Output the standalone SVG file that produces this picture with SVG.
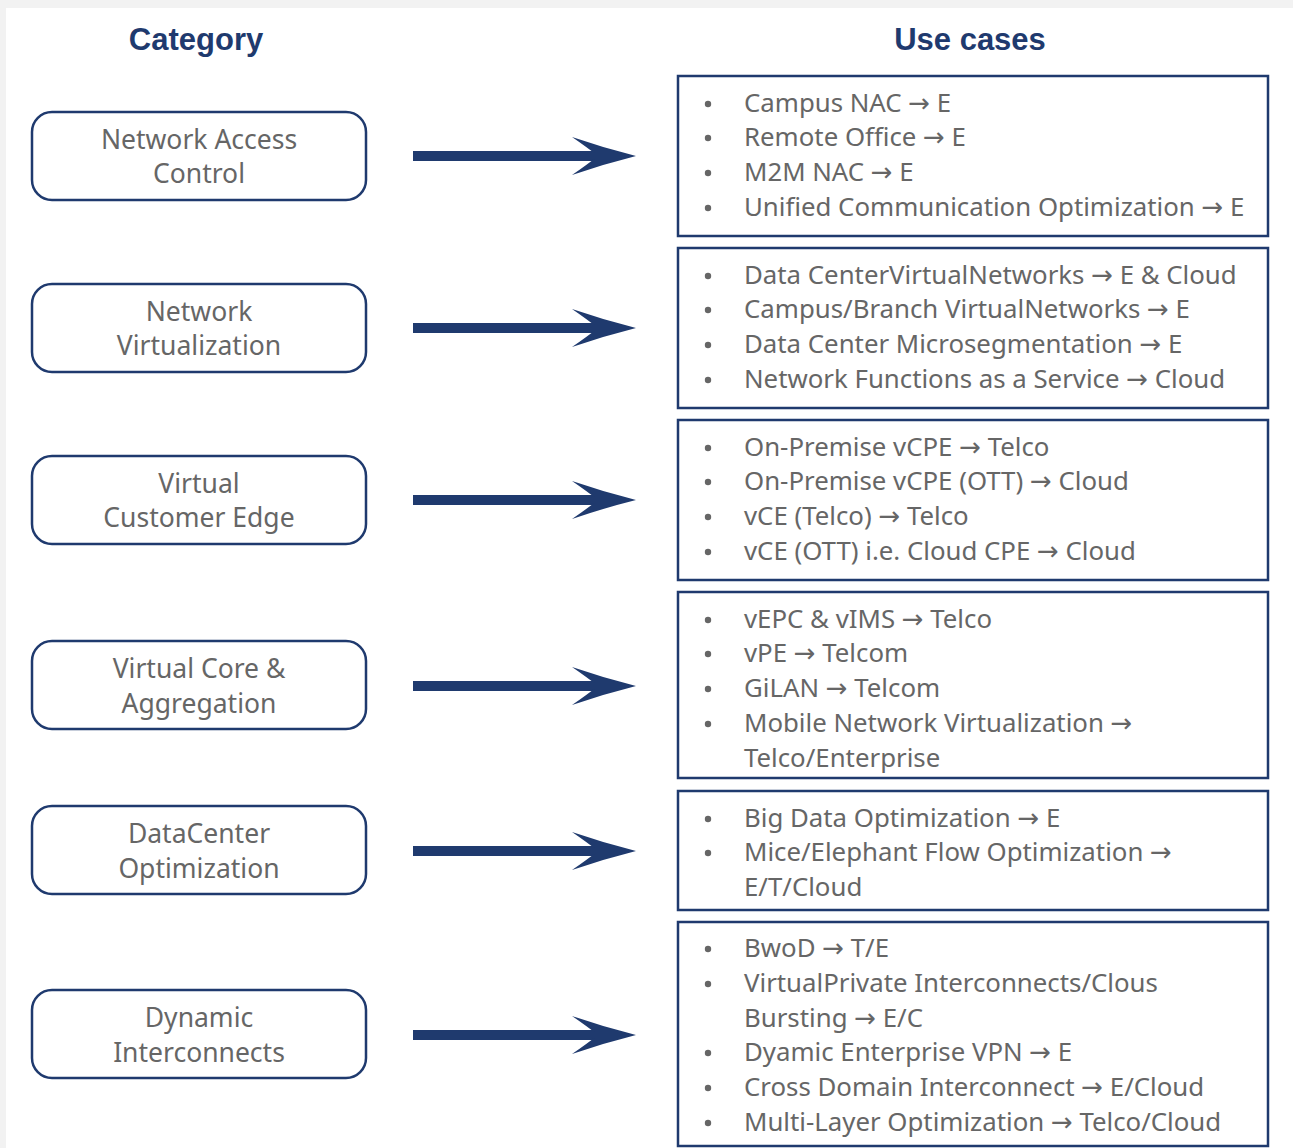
<svg xmlns="http://www.w3.org/2000/svg" xmlns:xlink="http://www.w3.org/1999/xlink" width="1293" height="1148" viewBox="0 0 1293 1148">
<style>
.bg{fill:#f2f2f2}
.cat{fill:#fff;stroke:#1f3a6e;stroke-width:2.5}
.box{fill:#fff;stroke:#1f3a6e;stroke-width:2.5}
.hdr{font-family:"Liberation Sans",Arial,sans-serif;font-weight:bold;font-size:31px;fill:#1f3a6e;text-anchor:middle}
.ct{font-family:"Noto Sans","Liberation Sans",sans-serif;font-size:26.5px;fill:#666;text-anchor:middle}
.it{font-family:"Noto Sans","Liberation Sans",sans-serif;font-size:25.8px;fill:#666}
.ar{font-family:"DejaVu Sans",sans-serif;font-size:26px}
.bl{fill:#666}
.arr{fill:#1f3a6e}
</style>
<defs>
<g id="arrow">
<rect x="413" y="-5" width="190" height="10" class="arr"/>
<path class="arr" d="M636,0 Q604,-8 572,-19 Q588,-8 598,0 Q588,8 572,19 Q604,8 636,0 Z"/>
</g>
<circle id="b" r="3.2" class="bl"/>
</defs>
<rect x="0" y="0" width="1293" height="1148" class="bg"/>
<rect x="6" y="8" width="1287" height="1140" fill="#fff"/>
<text class="hdr" x="196" y="50">Category</text>
<text class="hdr" x="970" y="50">Use cases</text>

<g id="connectors">
<use xlink:href="#arrow" transform="translate(0,156)"/>
<use xlink:href="#arrow" transform="translate(0,328)"/>
<use xlink:href="#arrow" transform="translate(0,500)"/>
<use xlink:href="#arrow" transform="translate(0,686)"/>
<use xlink:href="#arrow" transform="translate(0,851)"/>
<use xlink:href="#arrow" transform="translate(0,1035)"/>
</g>

<g id="cat-nac"><rect class="cat" x="32" y="112" width="334" height="88" rx="20"/><text class="ct" x="199" y="149">Network Access</text><text class="ct" x="199" y="183">Control</text></g>
<g id="cat-nv"><rect class="cat" x="32" y="284" width="334" height="88" rx="20"/><text class="ct" x="199" y="321">Network</text><text class="ct" x="199" y="355">Virtualization</text></g>
<g id="cat-vce"><rect class="cat" x="32" y="456" width="334" height="88" rx="20"/><text class="ct" x="199" y="493">Virtual</text><text class="ct" x="199" y="527">Customer Edge</text></g>
<g id="cat-vca"><rect class="cat" x="32" y="641" width="334" height="88" rx="20"/><text class="ct" x="199" y="678">Virtual Core &amp;</text><text class="ct" x="199" y="713">Aggregation</text></g>
<g id="cat-dco"><rect class="cat" x="32" y="806" width="334" height="88" rx="20"/><text class="ct" x="199" y="843">DataCenter</text><text class="ct" x="199" y="878">Optimization</text></g>
<g id="cat-di"><rect class="cat" x="32" y="990" width="334" height="88" rx="20"/><text class="ct" x="199" y="1027">Dynamic</text><text class="ct" x="199" y="1062">Interconnects</text></g>

<g id="uc-nac"><rect class="box" x="678" y="76" width="590" height="160"/>
<use xlink:href="#b" x="708" y="104"/><text class="it" x="744" y="112">Campus NAC <tspan class="ar">→</tspan> E</text>
<use xlink:href="#b" x="708" y="138"/><text class="it" x="744" y="146">Remote Office <tspan class="ar">→</tspan> E</text>
<use xlink:href="#b" x="708" y="173"/><text class="it" x="744" y="181">M2M NAC <tspan class="ar">→</tspan> E</text>
<use xlink:href="#b" x="708" y="208"/><text class="it" x="744" y="216">Unified Communication Optimization <tspan class="ar">→</tspan> E</text>
</g>
<g id="uc-nv"><rect class="box" x="678" y="248" width="590" height="160"/>
<use xlink:href="#b" x="708" y="276"/><text class="it" x="744" y="284">Data CenterVirtualNetworks <tspan class="ar">→</tspan> E &amp; Cloud</text>
<use xlink:href="#b" x="708" y="310"/><text class="it" x="744" y="318">Campus/Branch VirtualNetworks <tspan class="ar">→</tspan> E</text>
<use xlink:href="#b" x="708" y="345"/><text class="it" x="744" y="353">Data Center Microsegmentation <tspan class="ar">→</tspan> E</text>
<use xlink:href="#b" x="708" y="380"/><text class="it" x="744" y="388">Network Functions as a Service <tspan class="ar">→</tspan> Cloud</text>
</g>
<g id="uc-vce"><rect class="box" x="678" y="420" width="590" height="160"/>
<use xlink:href="#b" x="708" y="448"/><text class="it" x="744" y="456">On-Premise vCPE <tspan class="ar">→</tspan> Telco</text>
<use xlink:href="#b" x="708" y="482"/><text class="it" x="744" y="490">On-Premise vCPE (OTT) <tspan class="ar">→</tspan> Cloud</text>
<use xlink:href="#b" x="708" y="517"/><text class="it" x="744" y="525">vCE (Telco) <tspan class="ar">→</tspan> Telco</text>
<use xlink:href="#b" x="708" y="552"/><text class="it" x="744" y="560">vCE (OTT) i.e. Cloud CPE <tspan class="ar">→</tspan> Cloud</text>
</g>
<g id="uc-vca"><rect class="box" x="678" y="592" width="590" height="186"/>
<use xlink:href="#b" x="708" y="620"/><text class="it" x="744" y="628">vEPC &amp; vIMS <tspan class="ar">→</tspan> Telco</text>
<use xlink:href="#b" x="708" y="654"/><text class="it" x="744" y="662">vPE <tspan class="ar">→</tspan> Telcom</text>
<use xlink:href="#b" x="708" y="689"/><text class="it" x="744" y="697">GiLAN <tspan class="ar">→</tspan> Telcom</text>
<use xlink:href="#b" x="708" y="724"/><text class="it" x="744" y="732">Mobile Network Virtualization <tspan class="ar">→</tspan></text>
<text class="it" x="744" y="767">Telco/Enterprise</text>
</g>
<g id="uc-dco"><rect class="box" x="678" y="791" width="590" height="119"/>
<use xlink:href="#b" x="708" y="819"/><text class="it" x="744" y="827">Big Data Optimization <tspan class="ar">→</tspan> E</text>
<use xlink:href="#b" x="708" y="853"/><text class="it" x="744" y="861">Mice/Elephant Flow Optimization <tspan class="ar">→</tspan></text>
<text class="it" x="744" y="896">E/T/Cloud</text>
</g>
<g id="uc-di"><rect class="box" x="678" y="922" width="590" height="224"/>
<use xlink:href="#b" x="708" y="949"/><text class="it" x="744" y="957">BwoD <tspan class="ar">→</tspan> T/E</text>
<use xlink:href="#b" x="708" y="984"/><text class="it" x="744" y="992">VirtualPrivate Interconnects/Clous</text>
<text class="it" x="744" y="1027">Bursting <tspan class="ar">→</tspan> E/C</text>
<use xlink:href="#b" x="708" y="1053"/><text class="it" x="744" y="1061">Dyamic Enterprise VPN <tspan class="ar">→</tspan> E</text>
<use xlink:href="#b" x="708" y="1088"/><text class="it" x="744" y="1096">Cross Domain Interconnect <tspan class="ar">→</tspan> E/Cloud</text>
<use xlink:href="#b" x="708" y="1123"/><text class="it" x="744" y="1131">Multi-Layer Optimization <tspan class="ar">→</tspan> Telco/Cloud</text>
</g>
</svg>
